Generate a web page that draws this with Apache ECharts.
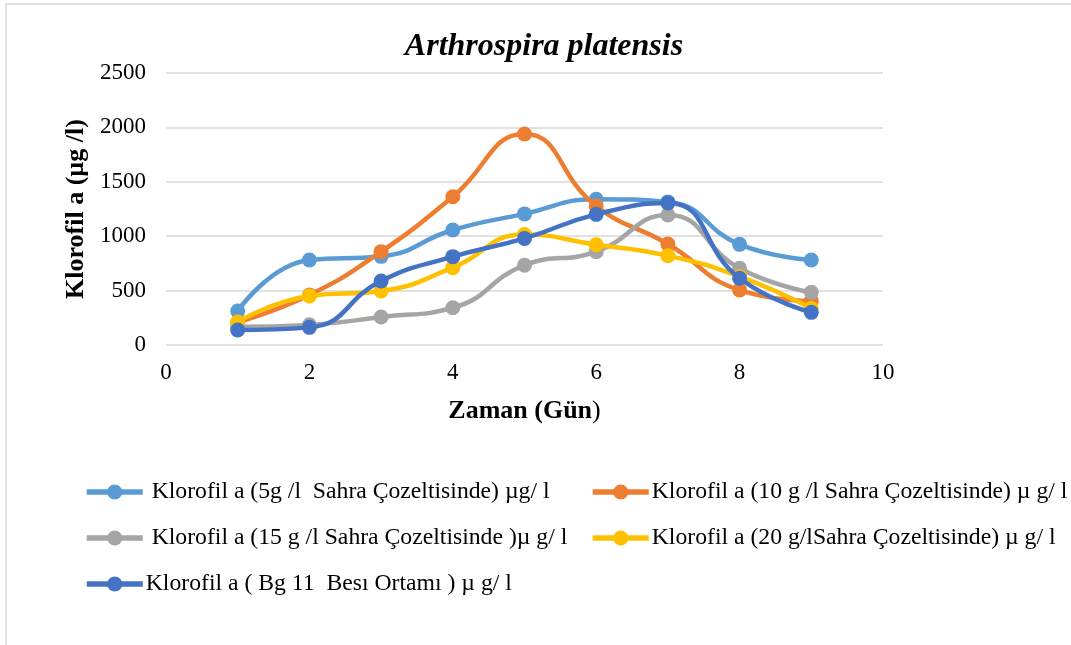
<!DOCTYPE html>
<html>
<head>
<meta charset="utf-8">
<script src="https://cdn.jsdelivr.net/npm/echarts@6/dist/echarts.min.js"></script>
<style>html,body{margin:0;padding:0;background:#fff;}#c{width:1071px;height:645px;}</style>
</head>
<body>
<div id="c"></div>
<script>
const days = [1, 2, 3, 4, 5, 6, 7, 8, 9];
const names = [
  ' Klorofil a (5g /l  Sahra Çozeltisinde) µg/ l',
  'Klorofil a (10 g /l Sahra Çozeltisinde) µ g/ l',
  ' Klorofil a (15 g /l Sahra Çozeltisinde )µ g/ l',
  'Klorofil a (20 g/lSahra Çozeltisinde) µ g/ l',
  'Klorofil a ( Bg 11  Besı Ortamı ) µ g/ l'
];
const s5g   = [312, 781, 815, 1057, 1205, 1340, 1315, 925, 781];
const s10g  = [210, 460, 858, 1363, 1939, 1278, 928, 505, 404];
const s15g  = [168, 185, 258, 342, 733, 858, 1195, 705, 484];
const s20g  = [212, 450, 496, 711, 1015, 922, 821, 628, 337];
const sBg11 = [138, 162, 588, 812, 980, 1201, 1305, 613, 300];
const colors = ['#5B9BD5', '#ED7D31', '#A5A5A5', '#FFC000', '#4472C4'];
const yTicks = [0, 500, 1000, 1500, 2000, 2500];
const xTicks = [0, 2, 4, 6, 8, 10];

const values = [s5g, s10g, s15g, s20g, sBg11];
const font = 'Liberation Serif';

const legendPos = [
  {left: 84, top: 480},
  {left: 590, top: 480},
  {left: 84, top: 526},
  {left: 590, top: 526},
  {left: 84, top: 572}
];

const chart = echarts.init(document.getElementById('c'), null, {renderer: 'canvas'});
chart.setOption({
  animation: false,
  backgroundColor: '#fff',
  textStyle: {fontFamily: font, color: '#000'},
  title: {
    text: 'Arthrospira platensis',
    left: 539, top: 26, textAlign: 'center',
    textStyle: {fontFamily: font, fontStyle: 'italic', fontWeight: 'bold', fontSize: 32, color: '#000'}
  },
  graphic: [{
    type: 'rect', shape: {x: 6, y: 4, width: 1200, height: 800},
    style: {fill: 'none', stroke: '#d9d9d9', lineWidth: 1.5}, silent: true
  }],
  grid: {left: 166, right: 188, top: 73, bottom: 300, containLabel: false},
  legend: names.map((n, i) => ({
    data: [n], left: legendPos[i].left, top: legendPos[i].top, padding: 0,
    itemWidth: 56, itemHeight: 19, itemGap: 0,
    lineStyle: {width: 5.5},
    textStyle: {fontFamily: font, fontSize: 23.7, color: '#000', padding: [0, 0, 0, -2]}
  })),
  xAxis: {
    type: 'value', min: xTicks[0], max: xTicks[xTicks.length - 1], interval: 2,
    axisLine: {show: false}, axisTick: {show: false}, splitLine: {show: false},
    axisLabel: {fontFamily: font, fontSize: 23, color: '#000', margin: 16},
    name: '{b|Zaman (Gün}{n|)}', nameLocation: 'middle', nameGap: 53,
    nameTextStyle: {rich: {
      b: {fontFamily: font, fontSize: 26, fontWeight: 'bold', color: '#000'},
      n: {fontFamily: font, fontSize: 26, fontWeight: 'normal', color: '#000'}
    }}
  },
  yAxis: {
    type: 'value', min: yTicks[0], max: yTicks[yTicks.length - 1], interval: 500,
    axisLine: {show: false}, axisTick: {show: false},
    splitLine: {show: true, lineStyle: {color: '#d9d9d9', width: 1.5}},
    axisLabel: {fontFamily: font, fontSize: 23, color: '#000', margin: 20, formatter: v => String(v)},
    name: 'Klorofil a (µg /l)', nameLocation: 'middle', nameGap: 71, nameRotate: 90,
    nameTextStyle: {fontFamily: font, fontSize: 26, fontWeight: 'bold', color: '#000'}
  },
  series: names.map((n, i) => ({
    name: n, type: 'line', smooth: 0.5,
    data: days.map((d, j) => [d, values[i][j]]),
    symbol: 'circle', symbolSize: 15,
    lineStyle: {color: colors[i], width: 4.5},
    itemStyle: {color: colors[i]},
    z: 2 + i
  }))
});
</script>
</body>
</html>
